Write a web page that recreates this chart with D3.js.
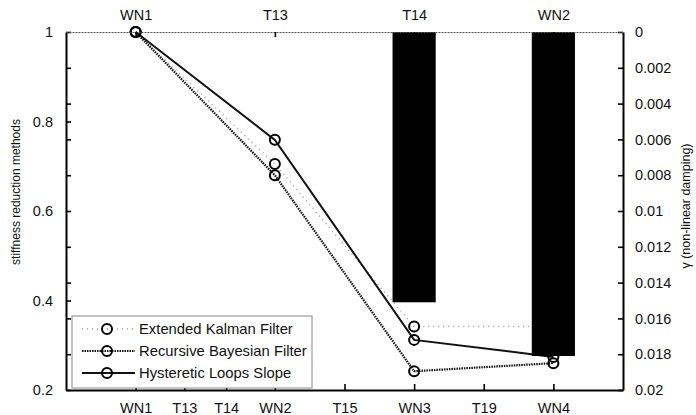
<!DOCTYPE html>
<html><head><meta charset="utf-8">
<script src="https://cdn.jsdelivr.net/npm/d3@7"></script>
<style>body{margin:0;background:#fff}svg{display:block}text{font-family:"Liberation Sans",Arial,sans-serif;fill:#111}</style>
</head><body><svg id="c" width="696" height="415"></svg>
<script>
// ---- data ----
const bottomCategories = ["WN1","T13","T14","WN2","T15","WN3","T19","WN4"];
const bottomPositions = [0, 0.7, 1.3, 2, 3, 4, 5, 6];
const topCategories = ["WN1","T13","T14","WN2"];
const topPositions = [0, 2, 4, 6];
const gammaValues = [0, 0, 0.0151, 0.0181];
const stagePositions = [0, 2, 4, 6];
const ekfValues = [1.0, 0.705, 0.342, 0.342];
const rbfValues = [1.0, 0.68, 0.242, 0.26];
const hlsValues = [1.0, 0.759, 0.312, 0.274];
const leftTicks = [0.2, 0.4, 0.6, 0.8, 1];
const leftMinorTicks = [0.28, 0.36, 0.44, 0.52, 0.68, 0.76, 0.84, 0.92];
const rightTicks = [0, 0.002, 0.004, 0.006, 0.008, 0.01, 0.012, 0.014, 0.016, 0.018, 0.02];
const seriesNames = ["Extended Kalman Filter", "Recursive Bayesian Filter", "Hysteretic Loops Slope"];

// ---- layout ----
const L = 66, R = 623, T = 32, B = 390;
const svg = d3.select("#c");
const x = d3.scaleLinear().domain([-1, 7]).range([L, R]);
const yL = d3.scaleLinear().domain([0.2, 1]).range([B, T]);
const yR = d3.scaleLinear().domain([0, 0.02]).range([T, B]);

const styles = [
  {stroke: "#9a9a9a", width: 1.4, dash: "1,4"},
  {stroke: "#111", width: 2.2, dash: "1.5,1"},
  {stroke: "#111", width: 2, dash: null}
];
const series = [ekfValues, rbfValues, hlsValues];

// lines
const line = d3.line().x((d, i) => x(stagePositions[i])).y(d => yL(d));
series.forEach((vals, k) => {
  const s = styles[k];
  svg.append("path").datum(vals).attr("d", line)
    .attr("fill", "none").attr("stroke", s.stroke).attr("stroke-width", s.width)
    .attr("stroke-dasharray", s.dash);
});
series.forEach((vals) => {
  svg.append("g").selectAll("circle").data(vals).join("circle")
    .attr("cx", (d, i) => x(stagePositions[i])).attr("cy", d => yL(d))
    .attr("r", 5).attr("fill", "none").attr("stroke", "#000").attr("stroke-width", 2);
});

// bars (gamma, right axis, drawn from top)
const barW = x(0.62) - x(0);
svg.append("g").selectAll("rect").data(gammaValues).join("rect")
  .attr("x", (d, i) => x(topPositions[i]) - barW / 2)
  .attr("y", yR(0))
  .attr("width", barW)
  .attr("height", d => yR(d) - yR(0))
  .attr("fill", "#000");

// axes
const fs = "14.5px";
const gL = svg.append("g").attr("transform", `translate(${L},0)`)
  .call(d3.axisLeft(yL).tickValues(leftTicks).tickSize(-5).tickSizeOuter(0).tickPadding(13).tickFormat(d3.format("~g")));
svg.append("g").attr("transform", `translate(${L},0)`)
  .call(d3.axisLeft(yL).tickValues(leftMinorTicks).tickSize(-5).tickSizeOuter(0).tickFormat(""))
  .call(g => g.selectAll(".tick line").attr("stroke", "#000").attr("stroke-width", 1.6))
  .select(".domain").remove();
const gR = svg.append("g").attr("transform", `translate(${R},0)`)
  .call(d3.axisRight(yR).tickValues(rightTicks).tickSize(-5).tickSizeOuter(0).tickPadding(12).tickFormat(d => d === 0 ? "0" : String(+d.toFixed(3))));
const gB = svg.append("g").attr("transform", `translate(0,${B})`)
  .call(d3.axisBottom(x).tickValues(bottomPositions).tickSize(-6).tickSizeOuter(0).tickPadding(13).tickFormat((d, i) => bottomCategories[i]));
const gT = svg.append("g").attr("transform", `translate(0,${T})`)
  .call(d3.axisTop(x).tickValues(topPositions).tickSize(-5).tickSizeOuter(0).tickPadding(12).tickFormat((d, i) => topCategories[i]));

[gL, gR, gB, gT].forEach(g => {
  g.selectAll("text").style("font-size", fs).style("font-family", '"Liberation Sans",Arial,sans-serif').attr("fill", "#111");
  g.selectAll(".tick line").attr("stroke", "#000").attr("stroke-width", 1.6);
  g.select(".domain").attr("stroke", "#000").attr("stroke-width", 2);
});
gT.select(".domain").attr("stroke", "#555").attr("stroke-width", 1).attr("stroke-dasharray", "2,1");

// axis titles
svg.append("text").attr("transform", `translate(16,${(T + B) / 2 - 19}) rotate(-90)`)
  .attr("text-anchor", "middle").attr("dy", "0.35em").style("font-size", "12px")
  .text("stiffness reduction methods");
svg.append("text").attr("transform", `translate(686,${(T + B) / 2 - 5}) rotate(-90)`)
  .attr("text-anchor", "middle").attr("dy", "0.35em").style("font-size", "12.5px")
  .text("γ (non-linear damping)");

// legend
const lg = svg.append("g");
lg.append("rect").attr("x", 72).attr("y", 316).attr("width", 240).attr("height", 72)
  .attr("fill", "#fff").attr("stroke", "#888").attr("stroke-width", 1);
const rowY = [329, 351, 373];
seriesNames.forEach((name, k) => {
  const s = styles[k];
  lg.append("line").attr("x1", 82).attr("x2", 135).attr("y1", rowY[k]).attr("y2", rowY[k])
    .attr("stroke", s.stroke).attr("stroke-width", s.width).attr("stroke-dasharray", s.dash);
  lg.append("circle").attr("cx", 107).attr("cy", rowY[k]).attr("r", 5)
    .attr("fill", "none").attr("stroke", "#000").attr("stroke-width", 2);
  lg.append("text").attr("x", 139).attr("y", rowY[k]).attr("dy", "0.35em")
    .style("font-size", "14.8px").text(name);
});
</script>
</body></html>
